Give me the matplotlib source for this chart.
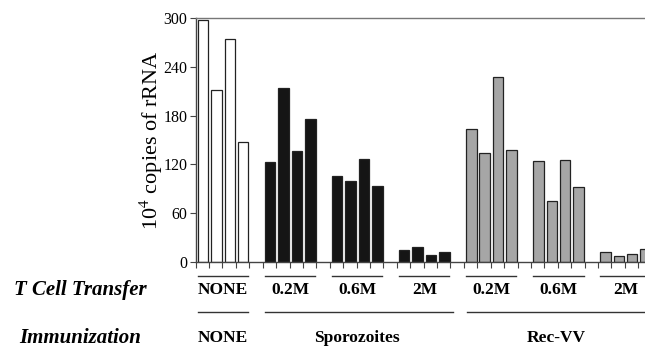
import matplotlib
matplotlib.use("Agg")
import matplotlib.pyplot as plt
from matplotlib.transforms import blended_transform_factory
import numpy as np

plt.rcParams['font.family'] = ['Liberation Serif', 'DejaVu Serif']

# Data
transfer_labels = ["NONE", "0.2M", "0.6M", "2M", "0.2M", "0.6M", "2M"]
immunization_labels = ["NONE", "Sporozoites", "Rec-VV"]
none_vals = [298, 211, 274, 147]
spz_02 = [123, 214, 136, 176]
spz_06 = [106, 100, 127, 94]
spz_2 = [15, 19, 9, 12]
rec_02 = [163, 134, 228, 138]
rec_06 = [124, 75, 126, 92]
rec_2 = [12, 7, 10, 16]
groups = [none_vals, spz_02, spz_06, spz_2, rec_02, rec_06, rec_2]
group_colors = ["white", "#151515", "#151515", "#151515", "#a6a6a6", "#a6a6a6", "#a6a6a6"]
yticks = [0, 60, 120, 180, 240, 300]

fig = plt.figure(figsize=(6.45, 3.48), dpi=100)
ax = fig.add_axes([0.3033, 0.2471, 0.6967, 0.7011])

slots = 5
for g, vals in enumerate(groups):
    xs = np.arange(len(vals)) + g * slots + 0.55
    ax.bar(xs, vals, width=0.78, color=group_colors[g], edgecolor="#222222",
           linewidth=0.9, zorder=2)

ax.set_xlim(0, 33.5)
ax.set_ylim(0, 300)
ax.set_yticks(yticks)
ax.set_xticks(np.arange(0, 34))
ax.set_xticklabels([])
ax.tick_params(axis='x', direction='out', length=4, width=0.8, color="#444444")
ax.tick_params(axis='y', direction='out', length=4, width=0.8, color="#444444",
               labelsize=11.5, pad=2)
for s in ["left", "bottom"]:
    ax.spines[s].set_linewidth(1.0)
    ax.spines[s].set_color("#444444")
ax.spines["top"].set_linewidth(1.0)
ax.spines["top"].set_color("#777777")
ax.spines["right"].set_visible(False)

ax.set_ylabel("10$^4$ copies of rRNA", fontsize=16, labelpad=-1,
              fontfamily='Liberation Serif')
ax.yaxis.label.set_math_fontfamily('stix')

tr = blended_transform_factory(ax.transData, fig.transFigure)

# T cell transfer row
y_line1 = 0.2069
y_lab1 = 0.1667
for g, lab in enumerate(transfer_labels):
    x0 = g * slots + 0.18
    x1 = g * slots + 3.92
    ax.plot([x0, x1], [y_line1, y_line1], transform=tr, color="#333333",
            lw=1.0, clip_on=False)
    ax.text((x0 + x1) / 2, y_lab1, lab, transform=tr, ha='center', va='center',
            fontsize=12.5, fontweight='bold', clip_on=False)

# Immunization row
y_line2 = 0.1034
y_lab2 = 0.0287
spans = [(0.18, 3.92), (5.18, 19.15), (20.2, 36)]
centers = [2.05, 12.05, 26.9]
for (x0, x1), c, lab in zip(spans, centers, immunization_labels):
    ax.plot([x0, x1], [y_line2, y_line2], transform=tr, color="#333333",
            lw=1.0, clip_on=False)
    ax.text(c, y_lab2, lab, transform=tr, ha='center', va='center',
            fontsize=12.5, fontweight='bold', clip_on=False)

fig.text(0.1248, 0.1667, "T Cell Transfer", ha='center', va='center',
         fontsize=15, fontweight='bold', fontstyle='italic')
fig.text(0.1248, 0.0287, "Immunization", ha='center', va='center',
         fontsize=15, fontweight='bold', fontstyle='italic')

fig.savefig("out.png", dpi=100)
